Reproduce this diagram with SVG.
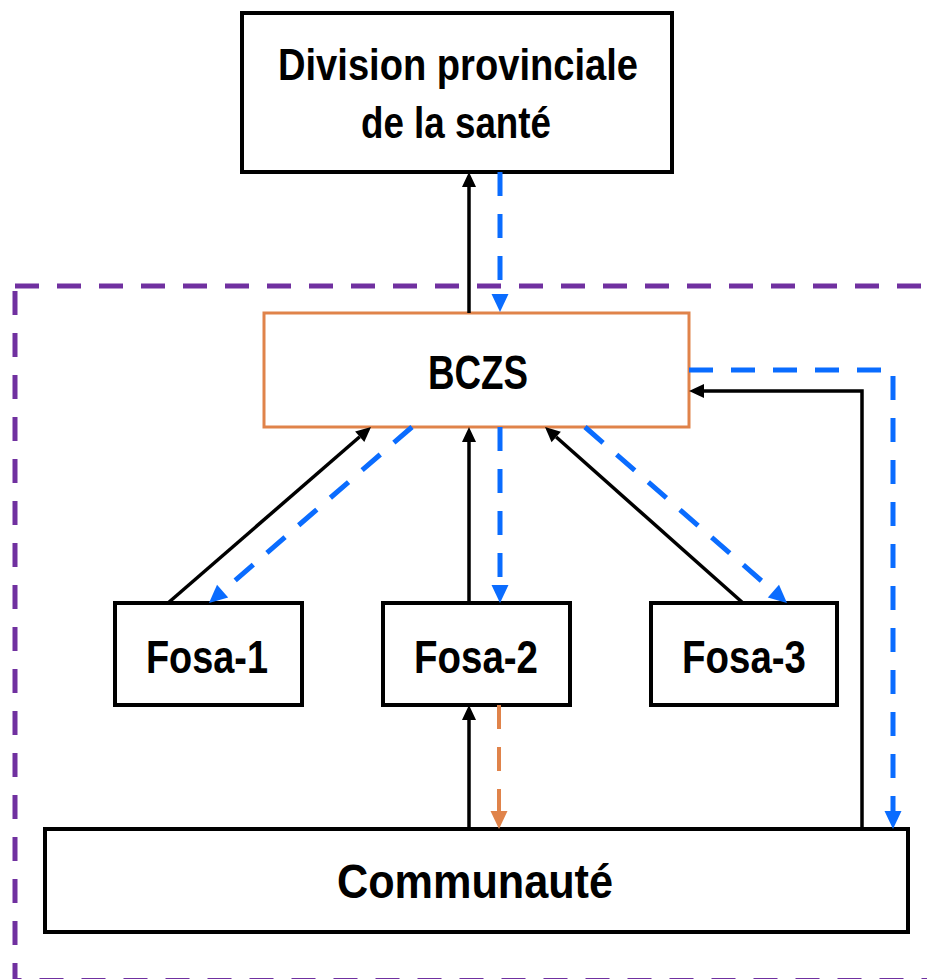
<svg xmlns="http://www.w3.org/2000/svg" width="927" height="979" viewBox="0 0 927 979">
<style>
.box{fill:#fff;stroke:#000;stroke-width:4}
.obox{fill:#fff;stroke:#e0834a;stroke-width:3}
.t{font-family:"Liberation Sans",Arial,sans-serif;font-weight:bold;fill:#000;text-anchor:middle}
.blk{fill:none;stroke:#000;stroke-width:3.5}
.blu{fill:none;stroke:#0a6cff;stroke-width:5;stroke-dasharray:24 18}
.org{fill:none;stroke:#e0834a;stroke-width:4;stroke-dasharray:24 18}
</style>
<defs>
<marker id="ab" markerUnits="userSpaceOnUse" markerWidth="16" markerHeight="16" refX="0" refY="0" orient="auto" overflow="visible"><path d="M0,-7 L15,0 L0,7 z" fill="#000"/></marker>
<marker id="au" markerUnits="userSpaceOnUse" markerWidth="19" markerHeight="19" refX="0" refY="0" orient="auto" overflow="visible"><path d="M0,-8.5 L18,0 L0,8.5 z" fill="#0a6cff"/></marker>
<marker id="ao" markerUnits="userSpaceOnUse" markerWidth="19" markerHeight="19" refX="0" refY="0" orient="auto" overflow="visible"><path d="M0,-8.5 L18,0 L0,8.5 z" fill="#e0834a"/></marker>
</defs>
<rect width="927" height="979" fill="#fff"/>
<rect id="zone" x="15" y="286" width="1000" height="694.5" fill="none" stroke="#7030a0" stroke-width="5" stroke-dasharray="24 18"/>
<g id="division"><rect class="box" x="242" y="13" width="430" height="159"/>
<text class="t" x="458" y="80" font-size="44" textLength="360" lengthAdjust="spacingAndGlyphs">Division provinciale</text>
<text class="t" x="456" y="138" font-size="44" textLength="190" lengthAdjust="spacingAndGlyphs">de la santé</text></g>
<g id="bczs"><rect class="obox" x="264" y="313" width="425" height="114"/>
<text class="t" x="478" y="389" font-size="48" textLength="100" lengthAdjust="spacingAndGlyphs">BCZS</text></g>
<g id="fosa1"><rect class="box" x="115" y="603" width="187" height="102"/>
<text class="t" x="207" y="673" font-size="46" textLength="122" lengthAdjust="spacingAndGlyphs">Fosa-1</text></g>
<g id="fosa2"><rect class="box" x="383" y="603" width="187" height="102"/>
<text class="t" x="476" y="673" font-size="46" textLength="124" lengthAdjust="spacingAndGlyphs">Fosa-2</text></g>
<g id="fosa3"><rect class="box" x="651" y="603" width="186" height="102"/>
<text class="t" x="744" y="673" font-size="46" textLength="124" lengthAdjust="spacingAndGlyphs">Fosa-3</text></g>
<g id="communaute"><rect class="box" x="45" y="829" width="863" height="103"/>
<text class="t" x="475" y="898" font-size="48" textLength="276" lengthAdjust="spacingAndGlyphs">Communauté</text></g>
<g id="connectors">
<path class="blk" d="M469,313 V187" marker-end="url(#ab)"/>
<path class="blu" d="M500,172 V294" marker-end="url(#au)"/>
<path class="blk" d="M168,603 L359.7,436.8" marker-end="url(#ab)"/>
<path class="blu" d="M412,427 L222.6,591.2" marker-end="url(#au)"/>
<path class="blk" d="M469,603 V442" marker-end="url(#ab)"/>
<path class="blu" d="M500,427 V585" marker-end="url(#au)"/>
<path class="blk" d="M743,603 L556.2,437" marker-end="url(#ab)"/>
<path class="blu" d="M585,427 L773.4,591.2" marker-end="url(#au)"/>
<path class="blk" d="M469,829 V720" marker-end="url(#ab)"/>
<path class="org" d="M499,705 V811" marker-end="url(#ao)"/>
<path class="blu" d="M689,370 H893 V811" marker-end="url(#au)"/>
<path class="blk" d="M862,829 V391 H704" marker-end="url(#ab)"/>
</g>
</svg>
